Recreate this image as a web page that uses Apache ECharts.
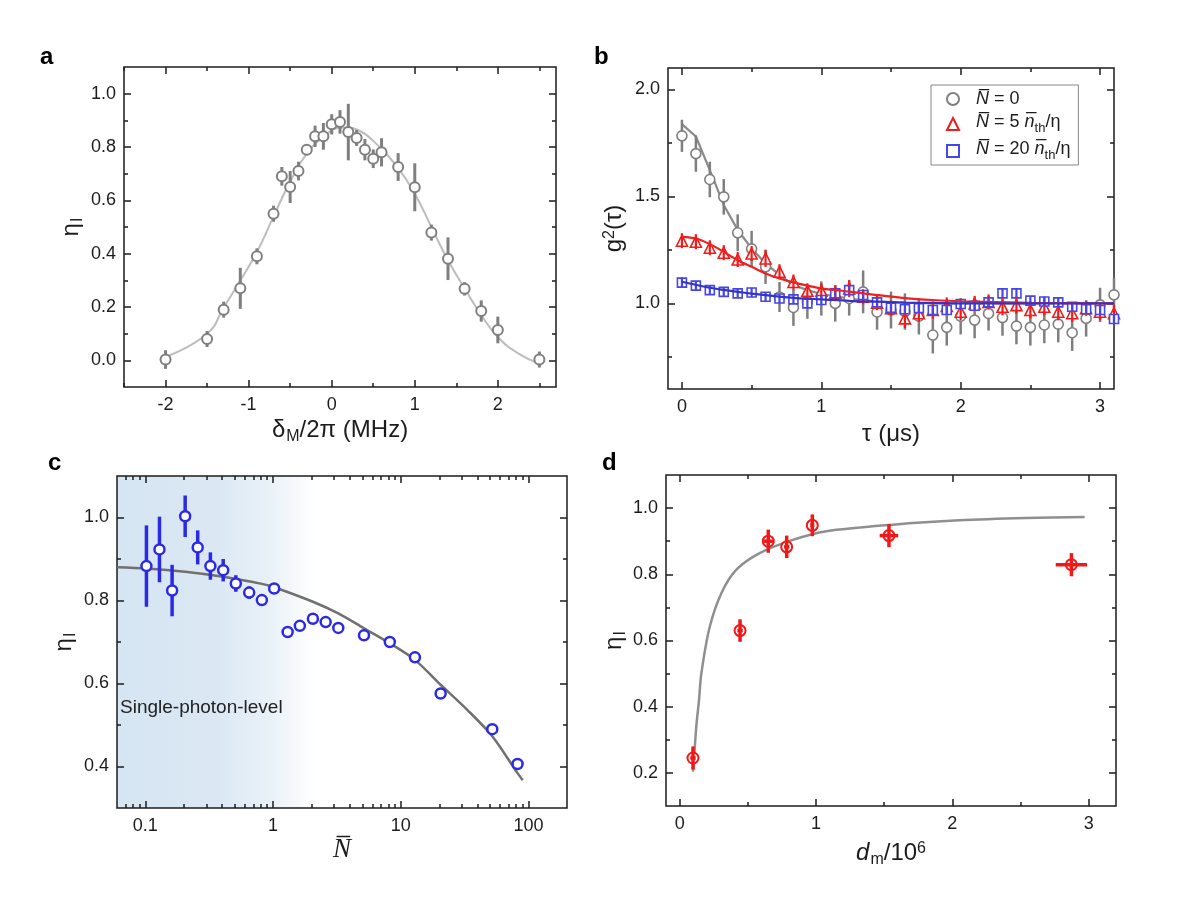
<!DOCTYPE html>
<html>
<head>
<meta charset="utf-8">
<title>Interference visibility panels</title>
<script src="https://cdn.jsdelivr.net/npm/echarts@6/dist/echarts.min.js"></script>
<style>
html, body { margin: 0; padding: 0; background: #fff; }
#chart { width: 1200px; height: 900px; }
</style>
</head>
<body>
<div id="chart"></div>
<script>
// ---- panel a: eta_I against detuning ----
var aDetuning = [-2, -1.5, -1.3, -1.1, -0.9, -0.7, -0.6, -0.5, -0.4, -0.3, -0.2, -0.1, 0, 0.1, 0.2, 0.3, 0.4, 0.5, 0.6, 0.8, 1.0, 1.2, 1.4, 1.6, 1.8, 2.0, 2.5];
var aEta = [0.003, 0.08, 0.19, 0.27, 0.39, 0.55, 0.69, 0.65, 0.71, 0.79, 0.84, 0.84, 0.885, 0.894, 0.856, 0.834, 0.79, 0.756, 0.78, 0.725, 0.649, 0.479, 0.381, 0.268, 0.185, 0.114, 0.003];
var aErr = [0.035, 0.03, 0.03, 0.077, 0.03, 0.03, 0.035, 0.06, 0.035, 0.02, 0.04, 0.05, 0.038, 0.044, 0.106, 0.03, 0.04, 0.035, 0.053, 0.052, 0.09, 0.03, 0.08, 0.025, 0.04, 0.05, 0.03];
var aFitX = [-2, -1.5, -1.3, -1.1, -0.9, -0.7, -0.5, -0.3, -0.1, 0.1, 0.2, 0.3, 0.5, 0.8, 1.0, 1.2, 1.4, 1.6, 1.8, 2.0, 2.25, 2.5];
var aFitY = [0.0125, 0.10, 0.198, 0.30, 0.406, 0.54, 0.67, 0.775, 0.837, 0.8725, 0.873, 0.866, 0.823, 0.72, 0.625, 0.50, 0.375, 0.27, 0.17, 0.0875, 0.025, -0.0125];
var aXMajor = [-2, -1, 0, 1, 2];
var aXMinor = [-2.5, -1.5, -0.5, 0.5, 1.5, 2.5];
var aYMajor = [0, 0.2, 0.4, 0.6, 0.8, 1.0];
var aYMinor = [0.1, 0.3, 0.5, 0.7, 0.9];

// ---- panel b: g2(tau) ----
var bTau = [0, 0.1, 0.2, 0.3, 0.4, 0.5, 0.6, 0.7, 0.8, 0.9, 1.0, 1.1, 1.2, 1.3, 1.4, 1.5, 1.6, 1.7, 1.8, 1.9, 2.0, 2.1, 2.2, 2.3, 2.4, 2.5, 2.6, 2.7, 2.8, 2.9, 3.0, 3.1];
var bG0 = [1.783, 1.70, 1.579, 1.498, 1.33, 1.255, 1.171, 1.03, 0.981, 1.008, 1.023, 1.0, 1.023, 1.054, 0.96, 0.969, 0.962, 0.94, 0.852, 0.888, 0.94, 0.922, 0.953, 0.934, 0.894, 0.888, 0.899, 0.903, 0.863, 0.93, 0.993, 1.04];
var bG0Err = [0.075, 0.085, 0.083, 0.083, 0.086, 0.084, 0.08, 0.07, 0.086, 0.08, 0.08, 0.085, 0.08, 0.1, 0.083, 0.086, 0.085, 0.085, 0.086, 0.085, 0.085, 0.085, 0.08, 0.085, 0.085, 0.085, 0.085, 0.085, 0.085, 0.085, 0.08, 0.08];
var bG5 = [1.293, 1.288, 1.26, 1.237, 1.205, 1.233, 1.21, 1.148, 1.10, 1.059, 1.059, 1.05, 1.07, 1.031, 1.003, 0.978, 0.93, 0.954, 0.969, 0.988, 0.961, 1.0, 1.007, 0.984, 0.992, 0.969, 0.984, 0.961, 0.954, 0.977, 0.961, 0.954];
var bG5Err = [0.035, 0.035, 0.035, 0.035, 0.035, 0.035, 0.04, 0.035, 0.035, 0.035, 0.035, 0.035, 0.04, 0.035, 0.035, 0.035, 0.045, 0.04, 0.04, 0.04, 0.04, 0.035, 0.035, 0.04, 0.04, 0.04, 0.04, 0.04, 0.04, 0.035, 0.04, 0.04];
var bG20 = [1.097, 1.083, 1.062, 1.054, 1.047, 1.051, 1.031, 1.023, 1.019, 1.0, 1.016, 1.047, 1.062, 1.039, 1.005, 0.98, 0.973, 0.978, 0.969, 0.969, 0.997, 0.989, 1.005, 1.047, 1.047, 1.013, 1.009, 1.005, 0.984, 0.973, 0.969, 0.927];
var bG20Err = [0.025, 0.022, 0.022, 0.022, 0.022, 0.022, 0.022, 0.022, 0.022, 0.022, 0.022, 0.022, 0.022, 0.022, 0.022, 0.022, 0.022, 0.022, 0.022, 0.022, 0.022, 0.022, 0.022, 0.022, 0.022, 0.022, 0.022, 0.022, 0.022, 0.022, 0.022, 0.022];
var bFitTau = [0, 0.1, 0.2, 0.3, 0.4, 0.5, 0.6, 0.7, 0.8, 0.9, 1.0, 1.2, 1.4, 1.6, 1.8, 2.0, 2.5, 3.1];
var bFit0 = [1.838, 1.78, 1.623, 1.46, 1.343, 1.257, 1.187, 1.133, 1.086, 1.062, 1.044, 1.023, 1.008, 1.003, 1.0, 1.0, 1.0, 1.0];
var bFit5 = [1.311, 1.303, 1.277, 1.241, 1.202, 1.171, 1.14, 1.116, 1.098, 1.083, 1.07, 1.055, 1.039, 1.025, 1.016, 1.01, 1.003, 1.0];
var bFit20 = [1.101, 1.087, 1.073, 1.063, 1.054, 1.046, 1.039, 1.032, 1.026, 1.022, 1.019, 1.012, 1.008, 1.004, 1.002, 1.0, 1.0, 1.0];
var bXMajor = [0, 1, 2, 3];
var bXMinor = [0.5, 1.5, 2.5];
var bYMajor = [1.0, 1.5, 2.0];
var bYMinor = [0.75, 1.25, 1.75];

// ---- panel c: eta_I against mean photon number (log axis) ----
var cN = [0.102, 0.129, 0.162, 0.205, 0.257, 0.323, 0.407, 0.511, 0.65, 0.817, 1.02, 1.30, 1.62, 2.05, 2.58, 3.24, 5.15, 8.2, 12.9, 20.5, 52, 82];
var cEta = [0.883, 0.923, 0.824, 1.003, 0.928, 0.883, 0.873, 0.841, 0.819, 0.801, 0.829, 0.724, 0.739, 0.756, 0.748, 0.734, 0.716, 0.70, 0.663, 0.576, 0.49, 0.406];
var cErr = [0.098, 0.079, 0.062, 0.05, 0.041, 0.033, 0.027, 0.02, 0.015, 0.012, 0.01, 0.008, 0.008, 0.008, 0.008, 0.008, 0.008, 0.008, 0.008, 0.008, 0.008, 0.008];
var cFitN = [0.06, 0.102, 0.205, 0.407, 0.817, 1.02, 2.05, 3.24, 5.15, 8.2, 12.9, 20.5, 33, 52, 82, 90];
var cFitEta = [0.88, 0.877, 0.869, 0.857, 0.84, 0.832, 0.797, 0.769, 0.733, 0.697, 0.657, 0.597, 0.537, 0.473, 0.384, 0.367];
var cXMajor = [0.1, 1, 10, 100];
var cXMinor = [0.07, 0.08, 0.09, 0.2, 0.3, 0.4, 0.5, 0.6, 0.7, 0.8, 0.9, 2, 3, 4, 5, 6, 7, 8, 9, 20, 30, 40, 50, 60, 70, 80, 90];
var cYMajor = [0.4, 0.6, 0.8, 1.0];
var cYMinor = [0.5, 0.7, 0.9];

// ---- panel d: eta_I against d_m ----
var dDm = [0.098, 0.443, 0.65, 0.785, 0.973, 1.535, 2.873];
var dEta = [0.245, 0.63, 0.90, 0.883, 0.948, 0.917, 0.829];
var dErrY = [0.035, 0.034, 0.035, 0.034, 0.033, 0.035, 0.035];
var dErrX = [0.02, 0.02, 0.035, 0.02, 0.015, 0.068, 0.115];
var dFitX = [0.098, 0.11, 0.122, 0.142, 0.159, 0.22, 0.306, 0.416, 0.587, 0.831, 1.076, 1.565, 2.05, 2.54, 2.97];
var dFitY = [0.204, 0.27, 0.34, 0.42, 0.50, 0.64, 0.743, 0.814, 0.864, 0.904, 0.93, 0.95, 0.963, 0.97, 0.973];
var dXMajor = [0, 1, 2, 3];
var dXMinor = [0.5, 1.5, 2.5];
var dYMajor = [0.2, 0.4, 0.6, 0.8, 1.0];
var dYMinor = [0.3, 0.5, 0.7, 0.9];

var FONT = '"Liberation Sans", Arial, Helvetica, sans-serif';
var INK = '#1c1c1c';
// main text sits at the top of the line, subscripts are pushed down by padding
var RICH = {
    t: {verticalAlign: 'top'},
    ti: {verticalAlign: 'top', fontStyle: 'italic'},
    sub: {fontSize: 16, verticalAlign: 'bottom', padding: [11, 0, 0, 1]},
    sup: {fontSize: 16, verticalAlign: 'top'},
    it: {fontStyle: 'italic'}
};

var chart = echarts.init(document.getElementById('chart'));
var xAxes = [], yAxes = [];

function fmt1(v) { return Number(v).toFixed(1); }
function fmt0(v) { return String(v); }

function zip(a, b, c, d) {
    return a.map(function (v, i) {
        return [v, b[i], c ? c[i] : 0, d ? d[i] : 0];
    });
}

// labelled major axis, minor tick axis, and the same pair mirrored on the far side
function addAxes(list, dim, grid, cfg) {
    var first = list.length;
    var sides = dim === 'x' ? ['bottom', 'top'] : ['left', 'right'];
    sides.forEach(function (side, k) {
        [cfg.major, cfg.minor].forEach(function (ticks, j) {
            var ax = {
                gridIndex: grid, type: cfg.type || 'value', position: side,
                min: cfg.min, max: cfg.max,
                axisLine: {show: false, onZero: false},
                splitLine: {show: false},
                axisTick: {show: true, inside: true, length: j === 0 ? 7 : 4, customValues: ticks,
                    lineStyle: {color: INK, width: 1.5}},
                axisLabel: {show: false},
                axisPointer: {show: false}
            };
            if (cfg.type === 'log') ax.logBase = 10;
            if (k === 0 && j === 0) {
                ax.axisLabel = {show: true, customValues: cfg.major, formatter: cfg.fmt,
                    margin: dim === 'x' ? 9 : 8, color: INK, fontSize: 18, fontFamily: FONT};
                ax.name = cfg.name;
                ax.nameLocation = 'middle';
                ax.nameGap = cfg.nameGap;
                ax.nameRotate = dim === 'y' ? 90 : 0;
                ax.nameTextStyle = Object.assign({color: INK, fontSize: 24, fontFamily: FONT, rich: RICH}, cfg.nameStyle || {});
            }
            list.push(ax);
        });
    });
    return first;
}

function barSeries(xi, yi, data, color, width, z) {
    return {
        type: 'custom', xAxisIndex: xi, yAxisIndex: yi, z: z, silent: true,
        encode: {x: 0, y: 1},
        renderItem: function (params, api) {
            var x = api.value(0), y = api.value(1), ey = api.value(2), ex = api.value(3);
            var st = {stroke: color, lineWidth: width};
            var lo = api.coord([x, y - ey]), hi = api.coord([x, y + ey]);
            var kids = [{type: 'line', shape: {x1: lo[0], y1: lo[1], x2: hi[0], y2: hi[1]}, style: st}];
            if (ex > 0) {
                var l = api.coord([x - ex, y]), r = api.coord([x + ex, y]);
                kids.push({type: 'line', shape: {x1: l[0], y1: l[1], x2: r[0], y2: r[1]}, style: st});
            }
            return {type: 'group', children: kids};
        },
        data: data
    };
}

function markSeries(name, xi, yi, data, symbol, size, color, bw, z) {
    return {
        type: 'scatter', name: name, xAxisIndex: xi, yAxisIndex: yi, z: z, silent: true,
        symbol: symbol, symbolSize: size,
        itemStyle: {color: '#fff', borderColor: color, borderWidth: bw, opacity: 1},
        data: data
    };
}

function fitSeries(xi, yi, data, color, width, smooth, z) {
    return {
        type: 'line', xAxisIndex: xi, yAxisIndex: yi, z: z, silent: true,
        data: data, symbol: 'none', showSymbol: false, smooth: smooth,
        lineStyle: {color: color, width: width}
    };
}

var xa = addAxes(xAxes, 'x', 0, {min: -2.5, max: 2.7, major: aXMajor, minor: aXMinor, fmt: fmt0,
    name: '{t|δ}{sub|M}{t|/2π (MHz)}', nameGap: 31});
var ya = addAxes(yAxes, 'y', 0, {min: -0.1, max: 1.1, major: aYMajor, minor: aYMinor, fmt: fmt1,
    name: '{t|η}{sub|I}', nameGap: 38});
var xb = addAxes(xAxes, 'x', 1, {min: -0.1, max: 3.1, major: bXMajor, minor: bXMinor, fmt: fmt0,
    name: 'τ (μs)', nameGap: 33});
var yb = addAxes(yAxes, 'y', 1, {min: 0.6, max: 2.1, major: bYMajor, minor: bYMinor, fmt: fmt1,
    name: '{t|g}{sup|2}{t|(τ)}', nameGap: 42});
var xc = addAxes(xAxes, 'x', 2, {type: 'log', min: 0.06, max: 200, major: cXMajor, minor: cXMinor, fmt: fmt0,
    name: '{it|N\u0305}', nameGap: 28,
    nameStyle: {fontFamily: '"Liberation Serif", "DejaVu Serif", serif', fontSize: 27}});
var yc = addAxes(yAxes, 'y', 2, {min: 0.3, max: 1.1, major: cYMajor, minor: cYMinor, fmt: fmt1,
    name: '{t|η}{sub|I}', nameGap: 38});
var xd = addAxes(xAxes, 'x', 3, {min: -0.1, max: 3.2, major: dXMajor, minor: dXMinor, fmt: fmt0,
    name: '{ti|d}{sub|m}{t|/10}{sup|6}', nameGap: 35});
var yd = addAxes(yAxes, 'y', 3, {min: 0.1, max: 1.1, major: dYMajor, minor: dYMinor, fmt: fmt1,
    name: '{t|η}{sub|I}', nameGap: 34});

var gridBox = {show: true, borderColor: INK, borderWidth: 1.5, backgroundColor: 'transparent'};
var grids = [
    Object.assign({left: 124, top: 67, width: 432, height: 320}, gridBox),
    Object.assign({left: 668, top: 68, width: 446, height: 321}, gridBox),
    Object.assign({left: 117, top: 476, width: 450, height: 332}, gridBox, {
        backgroundColor: {
            type: 'linear', x: 0, y: 0, x2: 1, y2: 0,
            colorStops: [
                {offset: 0, color: '#d5e5f2'},
                {offset: 0.22, color: '#dbe8f4'},
                {offset: 0.34, color: '#e9f1f8'},
                {offset: 0.44, color: '#ffffff'},
                {offset: 1, color: '#ffffff'}
            ]
        }
    }),
    Object.assign({left: 666, top: 475, width: 450, height: 331}, gridBox)
];

var GREY = '#7f7f7f', RED = '#ee1c1c', BLUE = '#4646e6';
var CBLUE = '#2a2ae6', DRED = '#f01818';

var legendText = {
    g0: '{gap| }{i|N\u0305}{t| = 0}',
    g5: '{gap| }{i|N\u0305}{t| = 5 }{i|n\u0305}{sub|th}{t|/η}',
    g20: '{gap| }{i|N\u0305}{t| = 20 }{i|n\u0305}{sub|th}{t|/η}'
};

var option = {
    animation: false,
    backgroundColor: '#fff',
    grid: grids,
    xAxis: xAxes,
    yAxis: yAxes,
    legend: {
        left: 931, top: 85, orient: 'vertical', data: ['g0', 'g5', 'g20'],
        borderColor: '#888', borderWidth: 1, padding: [5, 8, 3, 15], itemGap: 5,
        itemWidth: 12, itemHeight: 12, selectedMode: false,
        textStyle: {color: INK, fontSize: 18, fontFamily: FONT,
            rich: {
                gap: {width: 12},
                t: {verticalAlign: 'top'},
                i: {fontStyle: 'italic', verticalAlign: 'top'},
                sub: {fontSize: 13, verticalAlign: 'bottom', padding: [9, 0, 0, 0]}
            }},
        formatter: function (name) { return legendText[name]; }
    },
    graphic: [
        {type: 'text', left: 40, top: 45, style: {text: 'a', font: 'bold 24px ' + FONT, fill: '#000'}},
        {type: 'text', left: 594, top: 45, style: {text: 'b', font: 'bold 24px ' + FONT, fill: '#000'}},
        {type: 'text', left: 48, top: 451, style: {text: 'c', font: 'bold 24px ' + FONT, fill: '#000'}},
        {type: 'text', left: 602, top: 451, style: {text: 'd', font: 'bold 24px ' + FONT, fill: '#000'}},
        {type: 'text', left: 120, top: 698, z: 10, style: {text: 'Single-photon-level', font: '19px ' + FONT, fill: '#222'}}
    ],
    series: [
        fitSeries(xa, ya, zip(aFitX, aFitY), '#bdbdbd', 2, true, 2),
        barSeries(xa, ya, zip(aDetuning, aEta, aErr), GREY, 3, 3),
        markSeries('a', xa, ya, zip(aDetuning, aEta), 'circle', 10, GREY, 2, 4),

        fitSeries(xb, yb, zip(bFitTau, bFit0), '#8a8a8a', 2.2, false, 2),
        barSeries(xb, yb, zip(bTau, bG0, bG0Err), GREY, 2.5, 3),
        markSeries('g0', xb, yb, zip(bTau, bG0), 'circle', 10, GREY, 1.6, 4),
        markSeries('g5', xb, yb, zip(bTau, bG5), 'triangle', 11, RED, 1.6, 5),
        barSeries(xb, yb, zip(bTau, bG5, bG5Err), RED, 2.2, 6),
        fitSeries(xb, yb, zip(bFitTau, bFit5), '#ee2020', 2.2, 0.3, 7),
        markSeries('g20', xb, yb, zip(bTau, bG20), 'rect', 9, BLUE, 1.6, 5),
        barSeries(xb, yb, zip(bTau, bG20, bG20Err), BLUE, 2.2, 6),
        fitSeries(xb, yb, zip(bFitTau, bFit20), '#3434c4', 2.2, 0.3, 7),

        fitSeries(xc, yc, zip(cFitN, cFitEta), '#707070', 2.5, 0.3, 2),
        barSeries(xc, yc, zip(cN, cEta, cErr), CBLUE, 3.5, 3),
        markSeries('c', xc, yc, zip(cN, cEta), 'circle', 10, CBLUE, 2.5, 4),

        fitSeries(xd, yd, zip(dFitX, dFitY), '#8f8f8f', 2.5, 0.3, 2),
        markSeries('d', xd, yd, zip(dDm, dEta), 'circle', 11, DRED, 2, 3),
        barSeries(xd, yd, zip(dDm, dEta, dErrY, dErrX), DRED, 3.5, 4)
    ]
};

chart.setOption(option);
window.addEventListener('resize', chart.resize);
</script>
</body>
</html>
